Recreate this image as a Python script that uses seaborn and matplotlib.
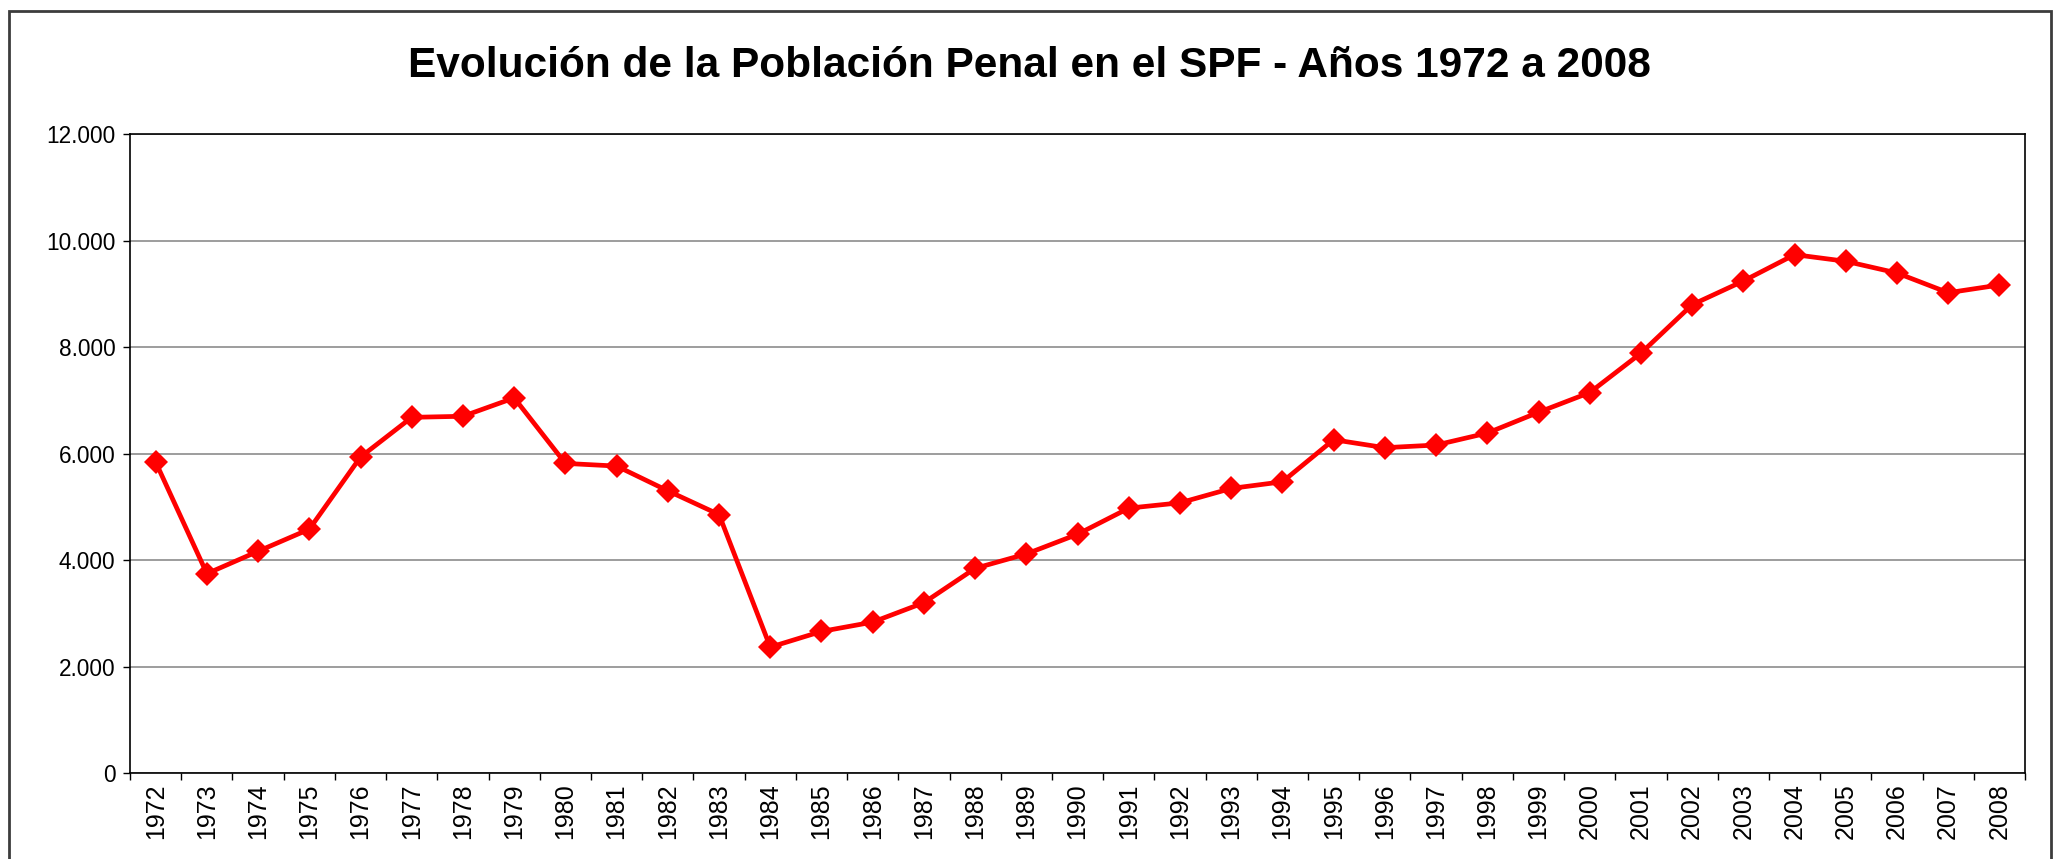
import pandas as pd
import matplotlib
matplotlib.use("Agg")
import matplotlib.pyplot as plt
import seaborn as sns
from matplotlib.ticker import FixedLocator, FuncFormatter, NullFormatter
from matplotlib.patches import Rectangle

# Data
anios = [str(a) for a in range(1972, 2009)]
poblacion = [5840, 3745, 4165, 4580, 5935, 6680, 6700, 7045, 5815, 5765,
             5300, 4855, 2365, 2660, 2835, 3200, 3845, 4115, 4485, 4975,
             5075, 5345, 5470, 6260, 6110, 6160, 6385, 6775, 7145, 7885,
             8795, 9240, 9735, 9610, 9390, 9020, 9165]
titulo = "Evolución de la Población Penal en el SPF - Años 1972 a 2008"
y_ticks = [0, 2000, 4000, 6000, 8000, 10000, 12000]

df = pd.DataFrame({"anio": anios, "poblacion": poblacion})

sns.set_style("white")
plt.rcParams["font.family"] = ["Liberation Sans", "DejaVu Sans"]
plt.rcParams["text.color"] = "black"
plt.rcParams["xtick.color"] = "black"
plt.rcParams["ytick.color"] = "black"

fig = plt.figure(figsize=(20.58, 8.59), dpi=100)
ax = fig.add_axes([0.0632, 0.100, 0.9208, 0.744])

sns.lineplot(data=df, x="anio", y="poblacion", ax=ax, color="#ff0000",
             linewidth=3.4, marker="D", markersize=12, markeredgewidth=0)

ax.set_xlim(-0.5, len(anios) - 0.5)
ax.set_ylim(0, 12000)
ax.set_xlabel("")
ax.set_ylabel("")

# y axis
ax.yaxis.set_major_locator(FixedLocator(y_ticks))
ax.yaxis.set_major_formatter(FuncFormatter(lambda v, p: f"{int(v):,}".replace(",", ".")))
ax.grid(axis="y", color="#8c8c8c", linewidth=1.2)
ax.grid(axis="x", visible=False)
ax.tick_params(axis="y", which="major", direction="out", length=5, width=1,
               color="black", labelcolor="black", pad=5.5, left=True, labelsize=16.3)

# x axis: tick marks between categories, labels centered
ax.xaxis.set_major_locator(FixedLocator([i - 0.5 for i in range(len(anios) + 1)]))
ax.xaxis.set_major_formatter(NullFormatter())
ax.xaxis.set_minor_locator(FixedLocator(list(range(len(anios)))))
ax.xaxis.set_minor_formatter(FuncFormatter(lambda v, p: anios[int(round(v))]))
ax.tick_params(axis="x", which="major", direction="out", length=5, width=1,
               color="black", bottom=True)
ax.tick_params(axis="x", which="minor", length=0, pad=7.5, labelsize=18,
               labelcolor="black", labelrotation=90, bottom=True)
for t in ax.get_xticklabels(minor=True):
    t.set_verticalalignment("top")
    t.set_horizontalalignment("center")

for side in ["top", "left", "bottom", "right"]:
    ax.spines[side].set_visible(True)
    ax.spines[side].set_color("black")
    ax.spines[side].set_linewidth(1.2)

# Title
fig.text(0.5, 0.923, titulo, ha="center", va="center", color="black",
         fontsize=30.5, fontweight="bold")

# Outer chart frame
fig.patches.append(Rectangle((9 / 2058, -0.05), (2051 - 9) / 2058, 1.05 - 10.5 / 859,
                             transform=fig.transFigure, fill=False,
                             edgecolor="#3c3c3c", linewidth=2))

plt.savefig("out.png", dpi=100)
